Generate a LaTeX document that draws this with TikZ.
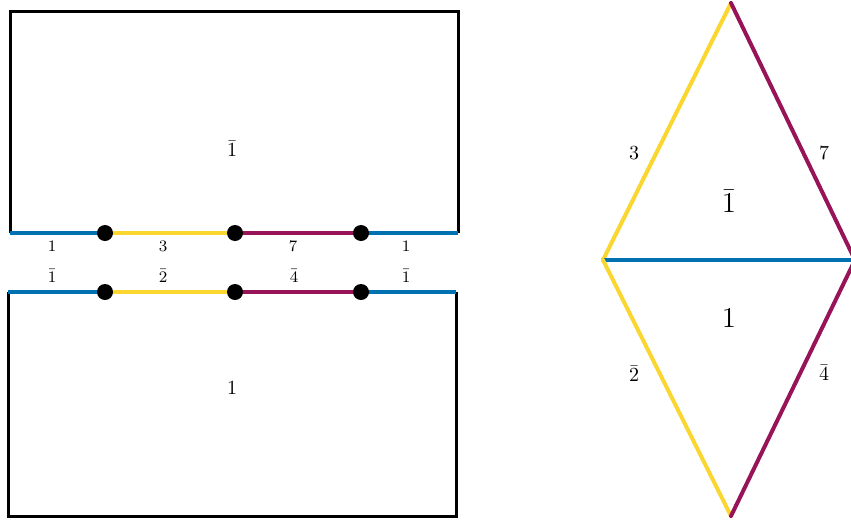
\documentclass[tikz,border=0pt]{standalone}
\usepackage{amsmath}
\definecolor{eblue}{RGB}{0,114,178}
\definecolor{eyellow}{RGB}{250,214,46}
\definecolor{emaroon}{RGB}{152,20,88}
\begin{document}
\begin{tikzpicture}[x=0.5pt,y=-0.5pt,
  frame/.style={draw=black,line width=1.5pt},
  edgeline/.style={line width=2pt},
  diaedge/.style={line width=2pt,line cap=round},
  vdot/.style={circle,fill=black,inner sep=0pt,minimum size=8pt},
  elabel/.style={font=\footnotesize,inner sep=1pt},
  flabel/.style={font=\normalsize,inner sep=1pt},
  dlabel/.style={font=\Large,inner sep=1pt}]
\useasboundingbox (0,0) rectangle (851,520);
% top rectangle
\coordinate (TA) at (10,233);
\coordinate (TB) at (10,11);
\coordinate (TC) at (458,11);
\coordinate (TD) at (458,233);
\coordinate (T1) at (105,233);
\coordinate (T2) at (235,233);
\coordinate (T3) at (361,233);
\draw[frame] (TA) -- (TB) -- (TC) -- (TD);
\draw[line width=0.6pt] (TA) -- (TD);
\draw[edgeline,eblue] (TA) -- (T1);
\draw[edgeline,eyellow] (T1) -- (T2);
\draw[edgeline,emaroon] (T2) -- (T3);
\draw[edgeline,eblue] (T3) -- (TD);
\node[vdot] (d1) at (T1) {};
\node[vdot] (d2) at (T2) {};
\node[vdot] (d3) at (T3) {};
\node[flabel] (tf) at (232,149) {$\bar{1}$};
\node[elabel] (ta) at (52,246) {$1$};
\node[elabel] (tb) at (163,246) {$3$};
\node[elabel] (tc) at (293,246) {$7$};
\node[elabel] (td) at (406,246) {$1$};
% bottom rectangle
\coordinate (BA) at (8,292);
\coordinate (BB) at (8,516);
\coordinate (BC) at (456,516);
\coordinate (BD) at (456,292);
\coordinate (B1) at (105,292);
\coordinate (B2) at (235,292);
\coordinate (B3) at (361,292);
\draw[frame] (BA) -- (BB) -- (BC) -- (BD);
\draw[line width=0.6pt] (BA) -- (BD);
\draw[edgeline,eblue] (BA) -- (B1);
\draw[edgeline,eyellow] (B1) -- (B2);
\draw[edgeline,emaroon] (B2) -- (B3);
\draw[edgeline,eblue] (B3) -- (BD);
\node[vdot] (e1) at (B1) {};
\node[vdot] (e2) at (B2) {};
\node[vdot] (e3) at (B3) {};
\node[flabel] (bf) at (232,388) {$1$};
\node[elabel] (ba) at (52,276) {$\bar{1}$};
\node[elabel] (bb) at (163,276) {$\bar{2}$};
\node[elabel] (bc) at (294,276) {$\bar{4}$};
\node[elabel] (bd) at (406,276) {$\bar{1}$};
% diamond
\coordinate (DT) at (731,3);
\coordinate (DL) at (603,260);
\coordinate (DR) at (855,260);
\coordinate (DB) at (731,516);
\draw[diaedge,eyellow] (DL) -- (DT);
\draw[diaedge,emaroon] (DT) -- (DR);
\draw[diaedge,eblue] (DL) -- (DR);
\draw[diaedge,eyellow] (DL) -- (DB);
\draw[diaedge,emaroon] (DB) -- (DR);
\node[flabel] (l3) at (634,153) {$3$};
\node[flabel] (l7) at (824,153) {$7$};
\node[dlabel] (lu) at (729,201) {$\bar{1}$};
\node[dlabel] (ll) at (729,318) {$1$};
\node[flabel] (l2) at (634,374) {$\bar{2}$};
\node[flabel] (l4) at (824,373) {$\bar{4}$};
\end{tikzpicture}
\end{document}
